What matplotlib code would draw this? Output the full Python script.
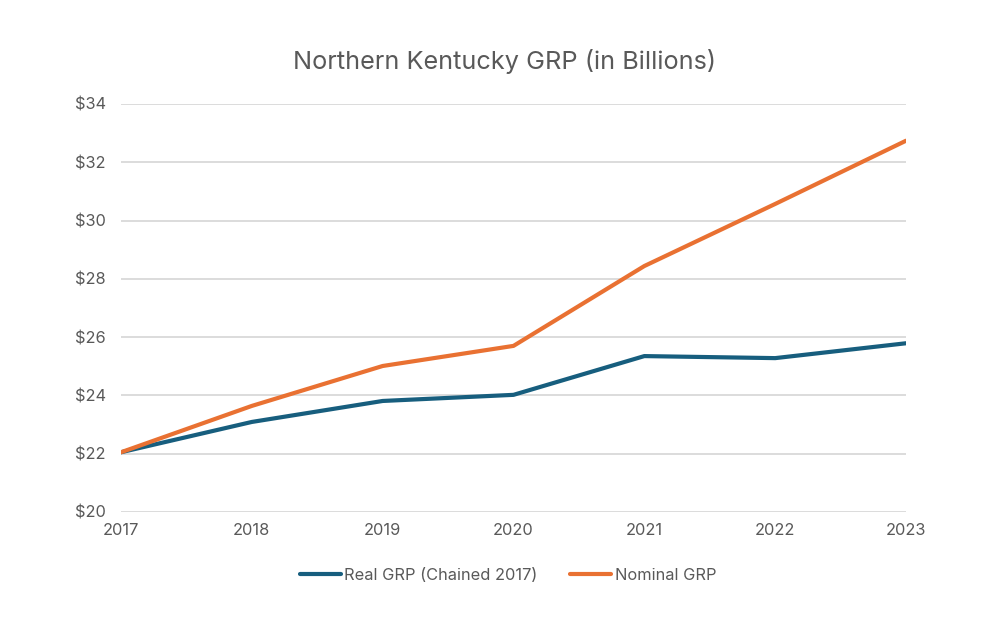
import matplotlib
matplotlib.use("Agg")
import matplotlib.pyplot as plt
from matplotlib.ticker import FuncFormatter

years = [2017, 2018, 2019, 2020, 2021, 2022, 2023]
real_grp = [22.05, 23.09, 23.81, 24.02, 25.35, 25.28, 25.79]
nominal_grp = [22.05, 23.64, 25.01, 25.70, 28.44, 30.57, 32.74]
series_names = ["Real GRP (Chained 2017)", "Nominal GRP"]
title = "Northern Kentucky GRP (in Billions)"

plt.rcParams['font.family'] = ['Inter', 'DejaVu Sans']
txt = '#595959'

fig = plt.figure(figsize=(10.04, 6.38), dpi=100)
W, H = 1004, 638
ax = fig.add_axes([121/W, 1-512/H, (906-121)/W, (512-104)/H])
ax.plot(years, real_grp, color='#175E7E', lw=3.0, solid_capstyle='round', label=series_names[0], zorder=3)
ax.plot(years, nominal_grp, color='#E97132', lw=3.0, solid_capstyle='round', label=series_names[1], zorder=3)
ax.set_xlim(2017, 2023)
ax.set_ylim(20, 34)
ax.set_yticks(range(20, 35, 2))
ax.set_xticks(years)
ax.yaxis.set_major_formatter(FuncFormatter(lambda v, p: f"${int(v)}"))
ax.grid(axis='y', color='#D9D9D9', lw=1.3)
ax.set_axisbelow(True)
for s in ax.spines.values():
    s.set_visible(False)
ax.tick_params(length=0, colors=txt, labelsize=11.8)
ax.tick_params(axis='y', pad=11)
ax.tick_params(axis='x', pad=8)
fig.text(505/W, 1-62/H, title, fontsize=18.2, color=txt, ha='center', va='center')
leg = fig.legend(loc='center', bbox_to_anchor=(508/W, 1-575/H), ncol=2, frameon=False,
                 fontsize=11.8, handlelength=2.5, handletextpad=0.2, columnspacing=2.0)
for t in leg.get_texts():
    t.set_color(txt)
fig.savefig("out.png", dpi=100, facecolor='white')
